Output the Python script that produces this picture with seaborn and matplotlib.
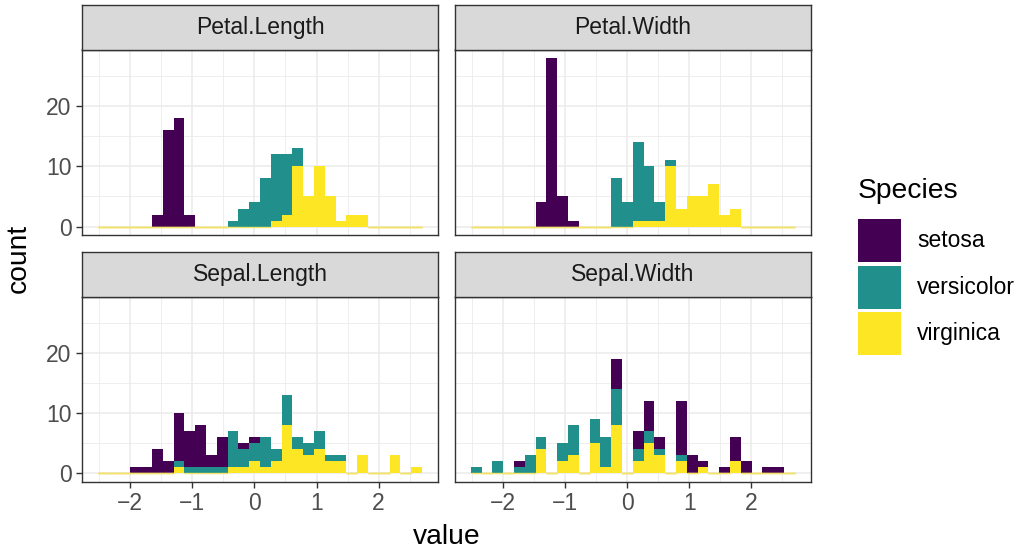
import numpy as np
import pandas as pd
import matplotlib
matplotlib.use("Agg")
import matplotlib.pyplot as plt
from matplotlib.patches import Rectangle
import seaborn as sns

sns.set_style("white")
plt.rcParams["font.family"] = ["Liberation Sans", "DejaVu Sans"]

# ---------------- data (bin counts) ----------------
variables = ["Petal.Length", "Petal.Width", "Sepal.Length", "Sepal.Width"]
species = ["setosa", "versicolor", "virginica"]
n_bins = 30
bin_range = (-2.52, 2.70)  # range of the scaled values covered by the bins
bin_edges = np.linspace(bin_range[0], bin_range[1], n_bins + 1)

pl_setosa     = [0,0,0,0,0,2,16,18,2,0, 0,0,0,0,0,0,0,0,0,0, 0,0,0,0,0,0,0,0,0,0]
pl_versicolor = [0,0,0,0,0,0,0,0,0,0, 0,0,1,3,4,8,11,10,3,0, 0,0,0,0,0,0,0,0,0,0]
pl_virginica  = [0,0,0,0,0,0,0,0,0,0, 0,0,0,0,0,0,1,2,10,5, 10,5,1,2,2,0,0,0,0,0]

pw_setosa     = [0,0,0,0,0,0,4,28,5,1, 0,0,0,0,0,0,0,0,0,0, 0,0,0,0,0,0,0,0,0,0]
pw_versicolor = [0,0,0,0,0,0,0,0,0,0, 0,0,0,8,4,13,9,3,1,0, 0,0,0,0,0,0,0,0,0,0]
pw_virginica  = [0,0,0,0,0,0,0,0,0,0, 0,0,0,0,0,1,1,1,10,3, 5,5,7,2,3,0,0,0,0,0]

sl_setosa     = [0,0,0,1,1,4,2,8,6,7, 2,5,0,1,1,0,0,0,0,0, 0,0,0,0,0,0,0,0,0,0]
sl_versicolor = [0,0,0,0,0,0,0,1,1,1, 1,1,6,3,3,5,2,5,2,2, 3,1,1,0,0,0,0,0,0,0]
sl_virginica  = [0,0,0,0,0,0,0,1,0,0, 0,0,1,1,2,1,2,8,4,3, 4,2,2,0,3,0,0,3,0,1]

sw_setosa     = [0,0,0,0,1,0,0,0,0,0, 0,0,0,5,0,3,5,2,0,9, 3,1,0,1,4,2,0,1,1,0]
sw_versicolor = [1,0,2,0,1,3,2,0,3,5, 0,4,5,6,0,2,2,1,0,1, 0,0,0,0,0,0,0,0,0,0]
sw_virginica  = [0,0,0,0,0,0,4,0,2,3, 0,5,1,8,0,2,5,3,0,2, 0,1,0,0,2,0,0,0,0,0]

counts = {
    "Petal.Length": [pl_setosa, pl_versicolor, pl_virginica],
    "Petal.Width":  [pw_setosa, pw_versicolor, pw_virginica],
    "Sepal.Length": [sl_setosa, sl_versicolor, sl_virginica],
    "Sepal.Width":  [sw_setosa, sw_versicolor, sw_virginica],
}

centers = (bin_edges[:-1] + bin_edges[1:]) / 2
rows = []
for var in variables:
    for sp, cnt in zip(species, counts[var]):
        for cval, n in zip(centers, cnt):
            rows.append((var, sp, float(cval), float(n)))
df = pd.DataFrame(rows, columns=["variable", "Species", "value", "count"])

palette = {"setosa": "#440154", "versicolor": "#21908C", "virginica": "#FDE725"}

# ---------------- layout ----------------
W, H = 1024, 548
fig = plt.figure(figsize=(W / 100, H / 100), dpi=100)

def box(x0, y0, x1, y1):
    return [x0 / W, 1 - y1 / H, (x1 - x0) / W, (y1 - y0) / H]

cols = [(81.7, 438.3), (454.7, 811.0)]
rowsy = [(49.5, 235.0), (296.9, 481.7)]
strip_h = 44.5

dark = "#333333"
small = 16.5
big = 20.3

xpad = 0.05 * (bin_range[1] - bin_range[0])
ymax = 28
ypad = 0.05 * ymax

for k, var in enumerate(variables):
    r, c = divmod(k, 2)
    x0, x1 = cols[c]
    y0, y1 = rowsy[r]
    ax = fig.add_axes(box(x0, y0, x1, y1))
    sub = df[df["variable"] == var].reset_index(drop=True)
    sns.histplot(data=sub, x="value", weights="count", hue="Species",
                 hue_order=species, palette=palette, bins=n_bins,
                 binrange=bin_range, multiple="stack", linewidth=0, alpha=1,
                 legend=False, ax=ax)
    # thin outline of empty bins at the baseline, as ggplot shows them
    for p in list(ax.patches):
        if abs(p.get_height()) < 1e-9 and abs(p.get_y()) < 1e-9:
            p.set_edgecolor("#F3E36A")
            p.set_linewidth(1.0)
            p.set_zorder(3)
    ax.set_xlim(bin_range[0] - xpad, bin_range[1] + xpad)
    ax.set_ylim(-ypad, ymax + ypad)
    ax.set_xticks([-2, -1, 0, 1, 2])
    ax.set_xticks([-2.5, -1.5, -0.5, 0.5, 1.5, 2.5], minor=True)
    ax.set_yticks([0, 10, 20])
    ax.set_yticks([5, 15, 25], minor=True)
    ax.set_facecolor("white")
    ax.grid(which="major", color="#EBEBEB", linewidth=1.15)
    ax.grid(which="minor", color="#EBEBEB", linewidth=0.6)
    ax.set_axisbelow(True)
    for s in ax.spines.values():
        s.set_color(dark)
        s.set_linewidth(1.0)
    ax.tick_params(which="minor", length=0)
    ax.tick_params(which="major", length=4.3, width=1.0, color=dark,
                   labelcolor="#4D4D4D", labelsize=small, pad=3)
    ax.tick_params(axis="x", bottom=(r == 1), labelbottom=(r == 1))
    ax.tick_params(axis="y", left=(c == 0), labelleft=(c == 0))
    ax.set_xlabel("")
    ax.set_ylabel("")

    sax = fig.add_axes(box(x0, y0 - strip_h, x1, y0))
    sax.set_facecolor("#D9D9D9")
    sax.set_xticks([])
    sax.set_yticks([])
    for s in sax.spines.values():
        s.set_color(dark)
        s.set_linewidth(1.0)
    sax.text(0.5, 0.5, var, ha="center", va="center", fontsize=small,
             color="#1A1A1A", transform=sax.transAxes)

fig.text(19 / W, 1 - 258 / H, "count", rotation=90, ha="center", va="center",
         fontsize=big, color="black")
fig.text(446.4 / W, 1 - 537 / H, "value", ha="center", va="center",
         fontsize=big, color="black")

# legend
fig.text(857.7 / W, 1 - 191 / H, "Species", ha="left", va="center",
         fontsize=big, color="black")
key_tops = [219.3, 265.5, 311.7]
for sp, top in zip(species, key_tops):
    fig.add_artist(Rectangle((857.7 / W, 1 - (top + 43) / H), 43.3 / W, 43 / H,
                             transform=fig.transFigure, facecolor=palette[sp],
                             edgecolor="none"))
    fig.text(917.3 / W, 1 - (top + 21.5) / H, sp, ha="left", va="center",
             fontsize=small, color="black")

fig.savefig("out.png", dpi=100, facecolor="white")
